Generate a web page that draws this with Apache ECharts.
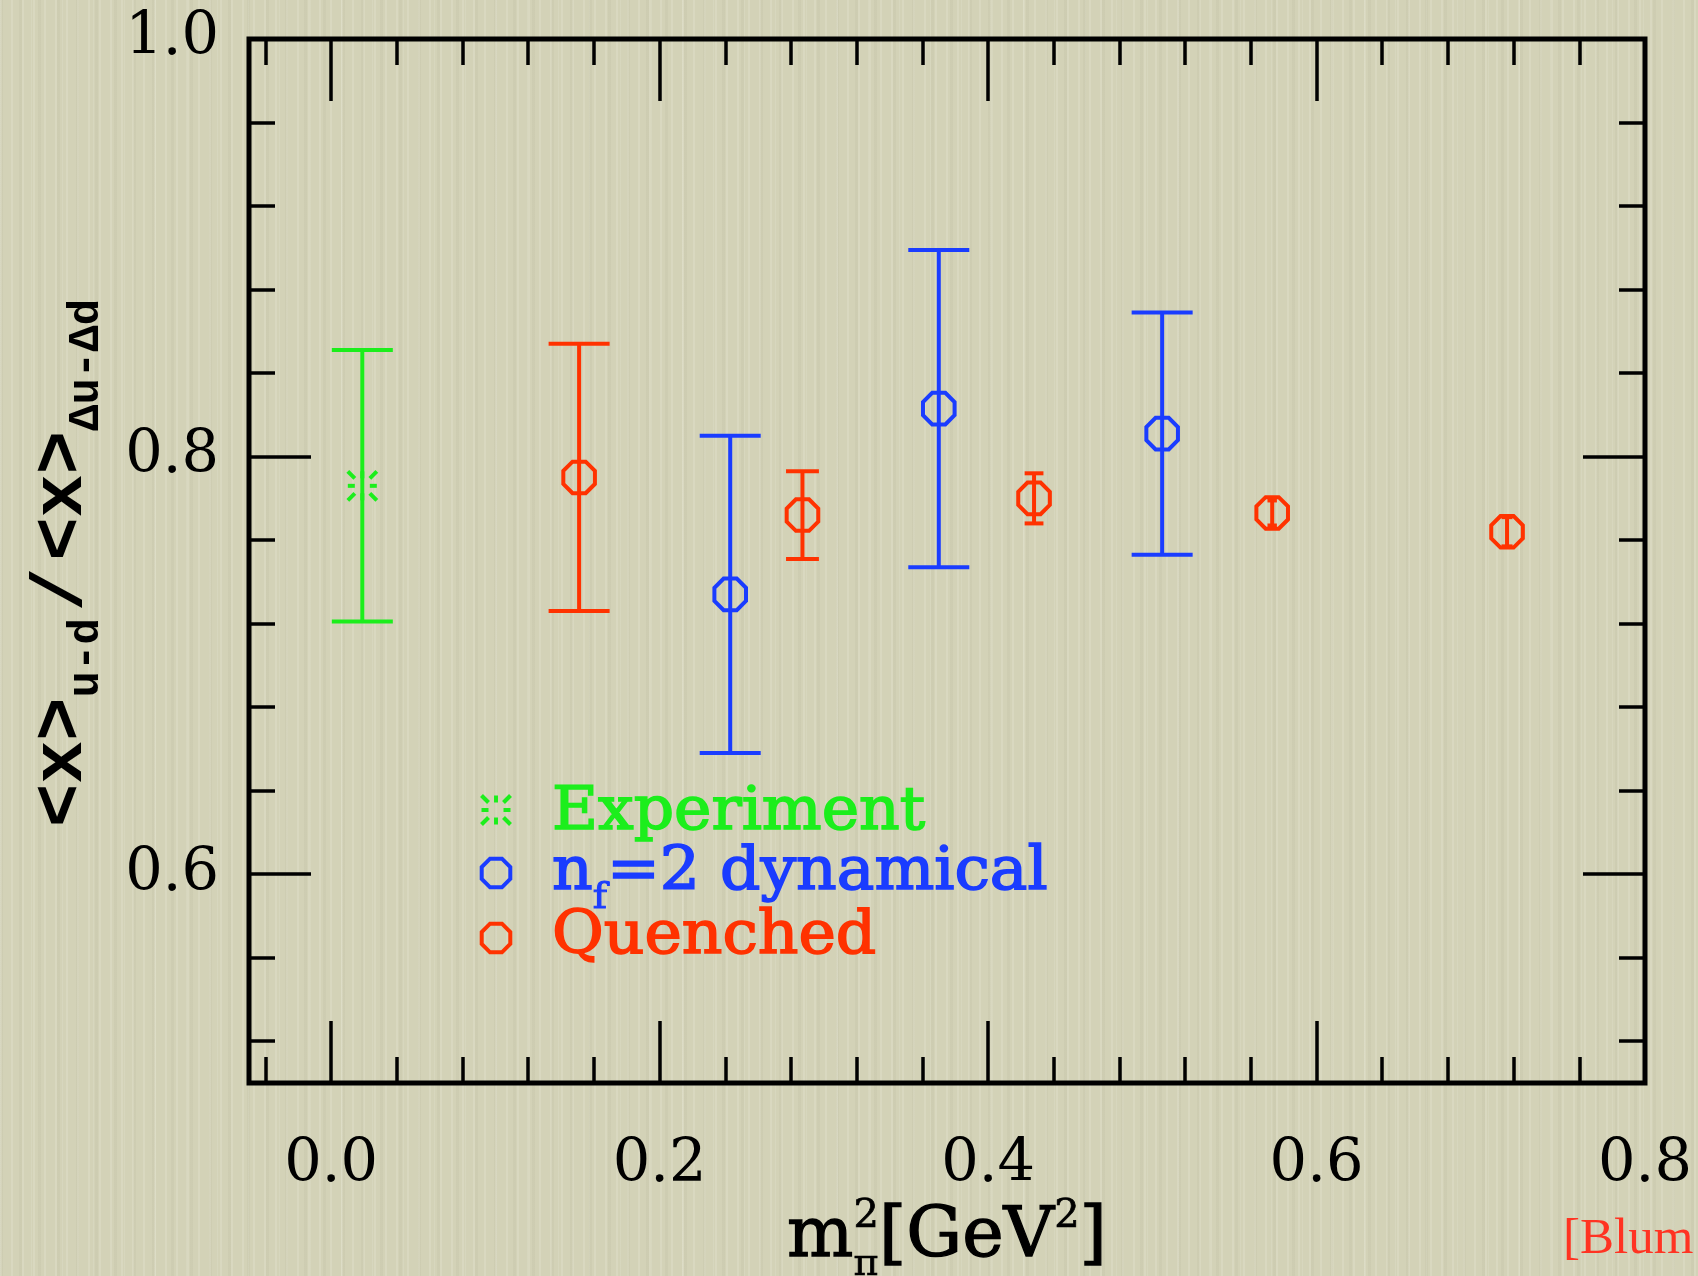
<!DOCTYPE html>
<html>
<head>
<meta charset="utf-8">
<title>Momentum fraction ratio vs pion mass squared</title>
<script src="https://cdn.jsdelivr.net/npm/echarts@6/dist/echarts.min.js"></script>
<style>
  html, body { margin: 0; padding: 0; }
  #chart {
    width: 1698px;
    height: 1276px;
    background-color: #d3d2b7;
    background-image:
      repeating-linear-gradient(90deg, rgba(255,255,245,0.14) 0 2px, transparent 2px 11px),
      repeating-linear-gradient(90deg, rgba(90,88,60,0.045) 0 3px, transparent 3px 19px),
      repeating-linear-gradient(90deg, rgba(255,255,250,0.10) 0 1px, transparent 1px 31px);
  }
</style>
</head>
<body>
<div id="chart"></div>
<script>
// ---- data: <x>_{u-d} / <x>_{Δu-Δd} against m_pi^2 [GeV^2] ----
const expX   = [0.019];
const expY   = [0.786];
const expErr = [0.065];

const dynX   = [0.243, 0.370, 0.506];
const dynY   = [0.734, 0.823, 0.811];
const dynErr = [0.076, 0.076, 0.058];

const quX    = [0.151, 0.287, 0.428, 0.573, 0.716];
const quY    = [0.790, 0.772, 0.780, 0.773, 0.764];
const quErr  = [0.064, 0.021, 0.012, 0.006, 0.007];

const xMajor = [0.0, 0.2, 0.4, 0.6, 0.8];
const xMinor = [-0.04, 0.04, 0.08, 0.12, 0.16, 0.24, 0.28, 0.32, 0.36,
                0.44, 0.48, 0.52, 0.56, 0.64, 0.68, 0.72, 0.76];
const yMajor = [0.6, 0.8, 1.0];
const yMinor = [0.52, 0.56, 0.64, 0.68, 0.72, 0.76, 0.84, 0.88, 0.92, 0.96];

const seriesNames = ['Experiment', 'dynamical', 'Quenched'];

// ---- styling ----
const GREEN = '#1cee1c';
const BLUE  = '#1a3cff';
const RED   = '#ff3200';
const MONO  = '"Liberation Mono", "DejaVu Sans Mono", monospace';
const SERIF = '"DejaVu Serif", serif';

const rows = (xs, ys, es) => xs.map((x, i) => [x, ys[i], es[i]]);

function octagonPoints(cx, cy, apothem) {
  const R = apothem / Math.cos(Math.PI / 8);
  const pts = [];
  for (let k = 0; k < 8; k++) {
    const a = Math.PI / 8 + k * Math.PI / 4;
    pts.push([cx + R * Math.cos(a), cy + R * Math.sin(a)]);
  }
  return pts;
}

function markerShapes(kind, cx, cy, color, apothem) {
  if (kind === 'burst') {
    const dirs = [[1,0],[1,1],[0,1],[-1,1],[-1,0],[-1,-1],[0,-1],[1,-1]];
    return dirs.map(([dx, dy]) => ({
      type: 'line',
      shape: { x1: cx + dx * 7.5, y1: cy + dy * 7.5, x2: cx + dx * 14.5, y2: cy + dy * 14.5 },
      style: { stroke: color, lineWidth: 4 }
    }));
  }
  return [{
    type: 'polygon',
    shape: { points: octagonPoints(cx, cy, apothem) },
    style: { stroke: color, fill: 'none', lineWidth: 4 }
  }];
}

// vertical error bar with caps plus the point marker
function errorBarRenderer(kind, color) {
  return function (params, api) {
    const x = api.value(0), y = api.value(1), e = api.value(2);
    const c  = api.coord([x, y]);
    const hi = api.coord([x, y + e]);
    const lo = api.coord([x, y - e]);
    const errPx = (lo[1] - hi[1]) / 2;
    const half = Math.min(30.5, 0.375 * errPx);
    const ls = { stroke: color, lineWidth: 4 };
    return {
      type: 'group',
      children: [
        { type: 'line', shape: { x1: c[0], y1: hi[1], x2: c[0], y2: lo[1] }, style: ls },
        { type: 'line', shape: { x1: c[0] - half, y1: hi[1], x2: c[0] + half, y2: hi[1] }, style: ls },
        { type: 'line', shape: { x1: c[0] - half, y1: lo[1], x2: c[0] + half, y2: lo[1] }, style: ls }
      ].concat(markerShapes(kind, c[0], c[1], color, 15.8))
    };
  };
}

// ---- text runs with sub/superscripts ----
const measureCtx = document.createElement('canvas').getContext('2d');
function textWidth(str, font) { measureCtx.font = font; return measureCtx.measureText(str).width; }

// parts: {t, size, shift (px below baseline), adv (optional advance override)}
function textRun(parts, family, weight, color, midK, embolden) {
  let x = 0;
  const children = [];
  for (const p of parts) {
    const font = weight + ' ' + p.size + 'px ' + family;
    const w = textWidth(p.t, font);
    const style = {
      text: p.t, fill: color,
      fontFamily: family, fontWeight: weight, fontSize: p.size,
      align: 'left', verticalAlign: 'middle',
      textAlign: 'left', textVerticalAlign: 'middle'
    };
    if (embolden) { style.stroke = color; style.lineWidth = embolden * p.size / 60; }
    children.push({ type: 'text', x: x, y: (p.shift || 0) - midK * p.size, style });
    x += (p.adv !== undefined ? p.adv : w);
  }
  return { children, width: x };
}

function shiftChildren(run, dx) {
  run.children.forEach(c => { c.x += dx; });
  return run.children;
}

const MONO_MID = 0.266;
const SERIF_MID = 0.346;

// axis titles
const xTitle = textRun([
  { t: 'm', size: 70 },
  { t: 'π', size: 38, shift: 16, adv: 0 },
  { t: '2', size: 40, shift: -32 },
  { t: '[GeV', size: 70 },
  { t: '2', size: 40, shift: -32 },
  { t: ']', size: 70 }
], SERIF, 'normal', '#000', SERIF_MID, 1.1);

const yTitle = textRun([
  { t: '<x>', size: 72 },
  { t: 'u-d', size: 44, shift: 17 },
  { t: ' ', size: 12 },
  { t: '/', size: 72 },
  { t: ' ', size: 12 },
  { t: '<x>', size: 72 },
  { t: 'Δu-Δd', size: 44, shift: 17 }
], MONO, 'bold', '#000', MONO_MID, 0);

// legend rows
const legendRows = [
  { kind: 'burst', color: GREEN, mark: [496, 810], base: [552, 834],
    parts: [{ t: 'Experiment', size: 59 }] },
  { kind: 'oct', color: BLUE, mark: [496, 873], base: [552, 894],
    parts: [{ t: 'n', size: 59 }, { t: 'f', size: 36, shift: 17 }, { t: '=2 ' + seriesNames[1], size: 59 }] },
  { kind: 'oct', color: RED, mark: [496, 938], base: [552, 958],
    parts: [{ t: 'Quenched', size: 59 }] }
];

const graphics = [];
legendRows.forEach(r => {
  graphics.push({ type: 'group', children: markerShapes(r.kind, r.mark[0], r.mark[1], r.color, 14.3) });
  const run = textRun(r.parts, SERIF, 'normal', r.color, SERIF_MID, 1.6);
  graphics.push({ type: 'group', x: r.base[0], y: r.base[1], scaleX: 1.07, children: run.children });
});

graphics.push({ type: 'group', x: 947, y: 1262, children: shiftChildren(xTitle, -xTitle.width / 2) });
graphics.push({ type: 'group', x: 82, y: 563, rotation: Math.PI / 2,
                children: shiftChildren(yTitle, -yTitle.width / 2) });

graphics.push({
  type: 'text', x: 1563, y: 1257 - 0.3375 * 51,
  style: { text: '[Blum', fill: '#ff3322', fontFamily: '"Liberation Serif", serif', fontSize: 51,
           align: 'left', verticalAlign: 'middle', textAlign: 'left', textVerticalAlign: 'middle' }
});

// ---- axes ----
const X_MIN = -0.05, X_MAX = 0.8, Y_MIN = 0.5, Y_MAX = 1.0;
const tickStyle = { color: '#000', width: 3.5 };
const labelStyle = { color: '#000', fontFamily: SERIF, fontSize: 59 };

function xAxisDef(position, values, len, withLabels) {
  return {
    type: 'value', position, min: X_MIN, max: X_MAX,
    axisLine: { show: false, onZero: false },
    splitLine: { show: false },
    axisTick: { show: true, inside: true, length: len, customValues: values, lineStyle: tickStyle },
    axisLabel: withLabels
      ? Object.assign({ show: true, customValues: values, margin: 53, formatter: v => v.toFixed(1) }, labelStyle)
      : { show: false }
  };
}
function yAxisDef(position, values, len, withLabels) {
  return {
    type: 'value', position, min: Y_MIN, max: Y_MAX,
    axisLine: { show: false, onZero: false },
    splitLine: { show: false },
    axisTick: { show: true, inside: true, length: len, customValues: values, lineStyle: tickStyle },
    axisLabel: withLabels
      ? Object.assign({ show: true, customValues: values, margin: 30, formatter: v => v.toFixed(1) }, labelStyle)
      : { show: false }
  };
}

const option = {
  backgroundColor: 'transparent',
  animation: false,
  grid: {
    left: 249, right: 53, top: 39, bottom: 193,
    show: true, borderColor: '#000', borderWidth: 5, backgroundColor: 'transparent'
  },
  xAxis: [
    xAxisDef('bottom', xMajor, 62, true),
    xAxisDef('bottom', xMinor, 26, false),
    xAxisDef('top', xMajor, 62, false),
    xAxisDef('top', xMinor, 26, false)
  ],
  yAxis: [
    yAxisDef('left', yMajor, 62, true),
    yAxisDef('left', yMinor, 26, false),
    yAxisDef('right', yMajor, 62, false),
    yAxisDef('right', yMinor, 26, false)
  ],
  series: [
    { name: seriesNames[0], type: 'custom', xAxisIndex: 0, yAxisIndex: 0,
      renderItem: errorBarRenderer('burst', GREEN), encode: { x: 0, y: 1 },
      data: rows(expX, expY, expErr) },
    { name: seriesNames[1], type: 'custom', xAxisIndex: 0, yAxisIndex: 0,
      renderItem: errorBarRenderer('oct', BLUE), encode: { x: 0, y: 1 },
      data: rows(dynX, dynY, dynErr) },
    { name: seriesNames[2], type: 'custom', xAxisIndex: 0, yAxisIndex: 0,
      renderItem: errorBarRenderer('oct', RED), encode: { x: 0, y: 1 },
      data: rows(quX, quY, quErr) }
  ],
  graphic: graphics
};

const chart = echarts.init(document.getElementById('chart'), null, { renderer: 'canvas' });
chart.setOption(option);
</script>
</body>
</html>
